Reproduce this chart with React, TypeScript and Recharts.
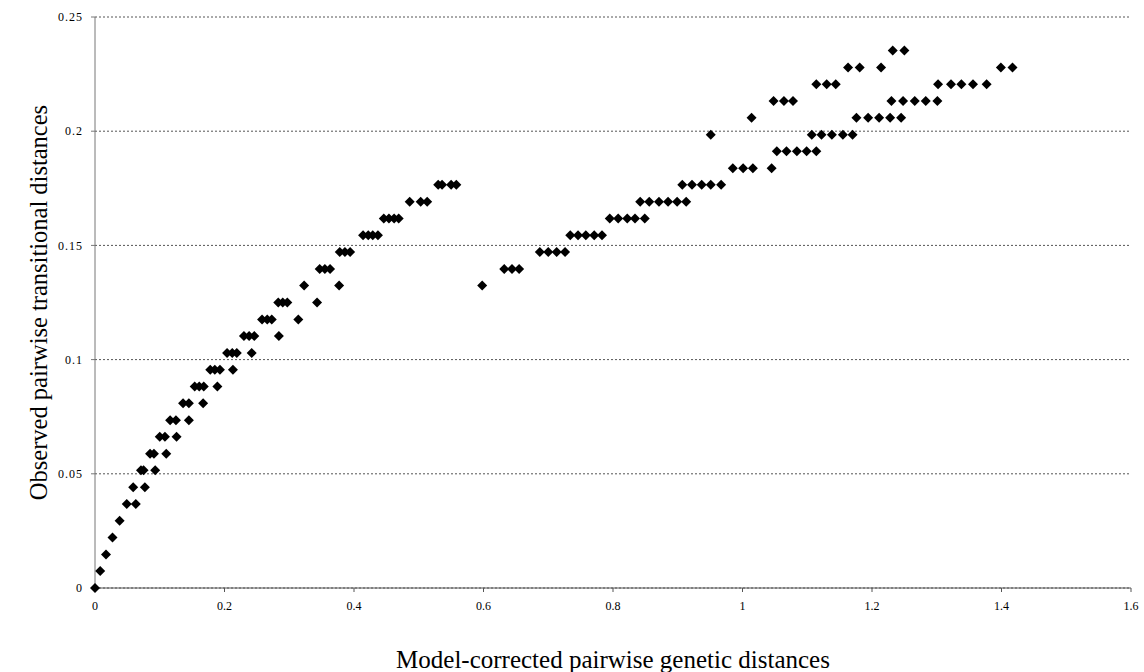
import { ScatterChart, Scatter, XAxis, YAxis, CartesianGrid, Label } from "recharts";

// observed distances come in discrete steps; x values read at each step
const yLevels = [
  0, 0.0074, 0.0147, 0.0221, 0.0294, 0.0368, 0.0441, 0.0515, 0.0588, 0.0662,
  0.0735, 0.0809, 0.0882, 0.0956, 0.1029, 0.1103, 0.1176, 0.125, 0.1324,
  0.1397, 0.1471, 0.1544, 0.1618, 0.1691, 0.1765, 0.1838, 0.1912, 0.1985,
  0.2059, 0.2132, 0.2206, 0.2279, 0.2353,
];

const xAtLevel = [
  [0],
  [0.008],
  [0.017],
  [0.027],
  [0.038],
  [0.049, 0.063],
  [0.059, 0.077],
  [0.071, 0.075, 0.093],
  [0.085, 0.091, 0.11],
  [0.1, 0.108, 0.126],
  [0.116, 0.125, 0.145],
  [0.136, 0.145, 0.167],
  [0.154, 0.161, 0.168, 0.189],
  [0.178, 0.185, 0.193, 0.213],
  [0.204, 0.212, 0.219, 0.242],
  [0.23, 0.238, 0.246, 0.284],
  [0.258, 0.266, 0.273, 0.314],
  [0.283, 0.29, 0.297, 0.343],
  [0.323, 0.377, 0.598],
  [0.347, 0.355, 0.363, 0.632, 0.644, 0.655],
  [0.378, 0.386, 0.394, 0.687, 0.7, 0.713, 0.726],
  [0.414, 0.422, 0.429, 0.437, 0.734, 0.746, 0.758, 0.771, 0.783],
  [0.446, 0.454, 0.462, 0.469, 0.795, 0.808, 0.822, 0.834, 0.849],
  [0.486, 0.503, 0.513, 0.842, 0.856, 0.871, 0.885, 0.899, 0.913],
  [0.53, 0.536, 0.55, 0.558, 0.907, 0.922, 0.937, 0.951, 0.967],
  [0.985, 1.001, 1.016, 1.045],
  [1.053, 1.068, 1.084, 1.099, 1.114],
  [0.951, 1.107, 1.122, 1.138, 1.155, 1.17],
  [1.014, 1.176, 1.194, 1.211, 1.228, 1.245],
  [1.048, 1.064, 1.078, 1.23, 1.248, 1.266, 1.283, 1.301],
  [1.114, 1.13, 1.144, 1.302, 1.322, 1.338, 1.356, 1.377],
  [1.163, 1.181, 1.214, 1.399, 1.417],
  [1.232, 1.25],
];

const xTicks = [0, 0.2, 0.4, 0.6, 0.8, 1, 1.2, 1.4, 1.6];
const yTicks = [0, 0.05, 0.1, 0.15, 0.2, 0.25];

const points = yLevels.flatMap((y, i) => xAtLevel[i].map((x) => ({ x, y })));

const font = "'Liberation Serif', 'Times New Roman', serif";

function Diamond(props: any) {
  const { cx, cy } = props;
  if (cx == null || cy == null) return null;
  return (
    <path
      d={`M${cx},${cy - 5}L${cx + 5},${cy}L${cx},${cy + 5}L${cx - 5},${cy}Z`}
      fill="#000"
    />
  );
}

export default function App() {
  return (
    <div style={{ position: "absolute", left: 0, top: 0, background: "#fff" }}>
      <ScatterChart
        width={1144}
        height={672}
        margin={{ top: 17, right: 13, bottom: 0, left: 0 }}
      >
        <CartesianGrid
          horizontal
          vertical={false}
          stroke="#555"
          strokeDasharray="2 2"
        />
        <XAxis
          type="number"
          dataKey="x"
          domain={[0, 1.6]}
          ticks={xTicks}
          height={84}
          tickSize={4}
          tickMargin={9}
          stroke="#555"
          tick={{ fill: "#000", fontSize: 12, fontFamily: font }}
        >
          <Label
            content={({ viewBox }: any) => (
              <text
                x={viewBox.x + viewBox.width / 2}
                y={viewBox.y + 80}
                textAnchor="middle"
                fontSize={25}
                fontFamily={font}
                fill="#000"
              >
                Model-corrected pairwise genetic distances
              </text>
            )}
          />
        </XAxis>
        <YAxis
          type="number"
          dataKey="y"
          domain={[0, 0.25]}
          ticks={yTicks}
          width={95}
          tickSize={4}
          tickMargin={8}
          stroke="#777"
          tick={{ fill: "#000", fontSize: 12, fontFamily: font, letterSpacing: 1 }}
        >
          <Label
            content={({ viewBox }: any) => {
              const cx = 38;
              const cy = viewBox.y + viewBox.height / 2;
              return (
                <text
                  x={cx}
                  y={cy}
                  transform={`rotate(-90 ${cx} ${cy})`}
                  textAnchor="middle"
                  dominantBaseline="central"
                  fontSize={24.5}
                  fontFamily={font}
                  fill="#000"
                >
                  Observed pairwise transitional distances
                </text>
              );
            }}
          />
        </YAxis>
        <Scatter data={points} shape={Diamond} isAnimationActive={false} />
      </ScatterChart>
    </div>
  );
}
